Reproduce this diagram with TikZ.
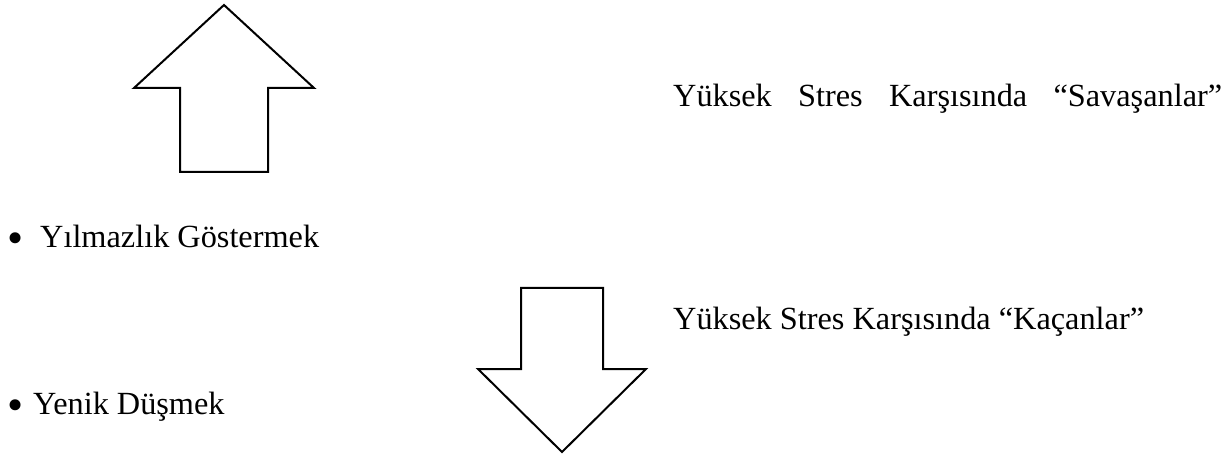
\documentclass[tikz,border=0pt]{standalone}
\usepackage{fontspec}
\setmainfont{Liberation Serif}
\begin{document}
\begin{tikzpicture}[x=1pt,y=-1pt,
  arrowshape/.style={draw=black,line width=2pt,line join=miter,fill=white},
  txt/.style={inner sep=0pt,anchor=base west,font=\fontsize{32.3}{38}\selectfont},
  bul/.style={inner sep=0pt,anchor=center,font=\fontsize{46}{50}\selectfont}]
\useasboundingbox (0,0) rectangle (1231,454);
% up arrow
\draw[arrowshape] (224,5) -- (314,88) -- (268,88) -- (268,172) -- (180,172) -- (180,88) -- (134,88) -- cycle;
% down arrow
\draw[arrowshape] (521,288) -- (603,288) -- (603,369) -- (646,369) -- (562,452) -- (478,369) -- (521,369) -- cycle;
% texts
\node[txt] (sav) at (673,107) {\makebox[549pt][s]{Yüksek Stres Karşısında “Savaşanlar”}};
\node[txt] (kac) at (673,329) {Yüksek Stres Karşısında “Kaçanlar”};
\node[bul] (b1) at (16,243) {•};
\node[txt] (yil) at (40,248) {Yılmazlık Göstermek};
\node[bul] (b2) at (16,410) {•};
\node[txt] (yen) at (33,414) {Yenik Düşmek};
\end{tikzpicture}
\end{document}
